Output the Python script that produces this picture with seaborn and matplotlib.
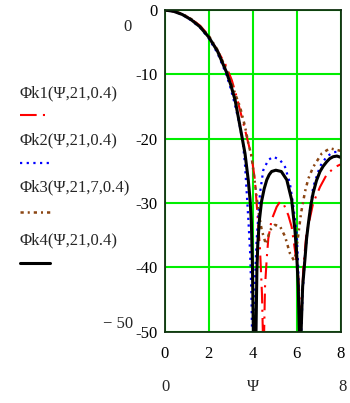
import matplotlib
matplotlib.use("Agg")
import pandas as pd
import seaborn as sns
from matplotlib import pyplot as plt
from matplotlib.lines import Line2D

# values (dB vs psi); nulls below -50 get clipped by the axes
psi_k1 = [0, 0.4, 0.8, 1.2, 1.6, 1.91, 2.29, 2.74, 3.05, 3.27, 3.5, 3.73, 3.95, 4.1, 4.2, 4.33,
          4.42, 4.46, 4.49, 4.52, 4.56, 4.64, 4.71, 4.86, 5.09, 5.24, 5.4, 5.62, 5.77, 5.92,
          6.07, 6.15, 6.19, 6.23, 6.3, 6.45, 6.53, 6.75, 7.06, 7.36, 7.74, 8.0]
db_k1 = [0, -0.2, -0.6, -1.4, -2.4, -3.6, -5.7, -8.3, -10.9, -13.5, -16.6, -19.7, -22.8, -26.4, -31, -37,
         -44, -50, -70, -50, -43, -38.5, -35.5, -32.6, -30.6, -29.8, -30.1, -31.9, -33.7, -37.3,
         -41.4, -46, -49, -46, -40, -34.5, -33.5, -30, -27.5, -25.6, -24.4, -24.0]

psi_k2 = [0, 0.4, 0.8, 1.2, 1.6, 2.0, 2.4, 2.8, 3.0, 3.2, 3.4, 3.55, 3.65, 3.73, 3.81, 3.88,
          3.94, 3.97, 4.01, 4.05, 4.1, 4.18, 4.33, 4.48, 4.71, 4.94, 5.24, 5.47, 5.69, 5.85,
          6.0, 6.07, 6.12, 6.16, 6.21, 6.27, 6.38, 6.53, 6.75, 7.06, 7.36, 7.66, 8.0]
db_k2 = [0, -0.2, -0.7, -1.6, -2.7, -4.4, -6.7, -10.0, -12.2, -14.8, -17.8, -20.5, -24, -28.5, -33, -37.5,
         -44, -50, -70, -50, -42, -35.7, -28.5, -24.9, -23.3, -22.8, -23.3, -24.4, -26.9, -30.6,
         -34.7, -40, -50, -70, -50, -44, -38, -33, -27.5, -24.3, -22.8, -22.1, -22.0]

psi_k3 = [0, 0.4, 0.8, 1.2, 1.6, 2.0, 2.4, 2.8, 3.0, 3.2, 3.42, 3.65, 3.8, 3.95, 4.1, 4.25,
          4.41, 4.6, 4.79, 5.01, 5.24, 5.47, 5.69, 5.87, 5.95, 6.07, 6.2, 6.38, 6.53, 6.75,
          7.14, 7.51, 7.89, 8.0]
db_k3 = [0, -0.2, -0.6, -1.4, -2.5, -4.0, -6.2, -9.2, -11.0, -13.0, -15.0, -18.1, -20.7, -22.8, -26.9, -31.1,
         -34.2, -36.4, -34.2, -33.4, -33.6, -35.2, -37.8, -38.9, -38.0, -35.0, -31.5, -28.2, -26.2, -24.4,
         -22.3, -21.5, -21.8, -21.9]

psi_k4 = [0, 0.4, 0.8, 1.2, 1.6, 2.0, 2.4, 2.8, 3.0, 3.2, 3.42, 3.65, 3.8, 3.88, 3.94, 3.99,
          4.03, 4.09, 4.15, 4.19, 4.23, 4.3, 4.4, 4.52, 4.64, 4.75, 4.86, 5.05, 5.3, 5.55,
          5.77, 5.92, 6.0, 6.07, 6.12, 6.16, 6.2, 6.27, 6.38, 6.45, 6.53, 6.64, 6.75, 6.9,
          7.06, 7.2, 7.36, 7.5, 7.66, 7.83, 8.0]
db_k4 = [0, -0.2, -0.7, -1.5, -2.6, -4.2, -6.4, -9.6, -11.6, -14.0, -18.0, -22.3, -26.5, -29.5, -33, -40,
         -50, -70, -50, -40.5, -36.5, -32.8, -29.8, -27.8, -26.4, -25.6, -25.1, -24.9, -25.1, -26.4,
         -29.5, -34.2, -38, -43, -50, -70, -50, -43, -38.5, -35.5, -33.2, -30.4, -28.4, -26.5,
         -25.1, -24.3, -23.6, -23.1, -22.8, -22.7, -22.9]

legend_labels = ["\u03a6k1(\u03a8,21,0.4)", "\u03a6k2(\u03a8,21,0.4)",
                 "\u03a6k3(\u03a8,21,7,0.4)", "\u03a6k4(\u03a8,21,0.4)"]
x_ticks = [0, 2, 4, 6, 8]
y_ticks = [0, -10, -20, -30, -40, -50]

sns.set_style("white")
plt.rcParams['font.family'] = ['Liberation Serif', 'DejaVu Serif']
plt.rcParams['axes.unicode_minus'] = False

W, H = 350, 403
fig = plt.figure(figsize=(W / 100, H / 100), dpi=100)
ax = fig.add_axes([164.7 / W, 1 - 331.7 / H, 176 / W, 321.7 / H])

styles = [
    dict(color="#ff0000", lw=1.5, ls=(0, (8, 3, 1, 3))),
    dict(color="#0000ff", lw=1.6, ls=(0, (1, 2))),
    dict(color="#8b4513", lw=1.8, ls=(0, (1.3, 1.6, 0.8, 1.6))),
    dict(color="#000000", lw=2.2, ls="-"),
]
curves = [(psi_k1, db_k1), (psi_k2, db_k2), (psi_k3, db_k3), (psi_k4, db_k4)]

for (xs, ys), st in zip(curves, styles):
    df = pd.DataFrame({"psi": xs, "db": ys})
    sns.lineplot(data=df, x="psi", y="db", ax=ax, sort=False, estimator=None,
                 color=st["color"], linewidth=st["lw"], linestyle=st["ls"],
                 dash_capstyle="butt")

ax.set_xlim(0, 8)
ax.set_ylim(-50, 0)
ax.set_xticks(x_ticks)
ax.set_yticks(y_ticks)
ax.set_xticklabels([str(t) for t in x_ticks])
ax.set_yticklabels([str(t) for t in y_ticks])
ax.set_xlabel("")
ax.set_ylabel("")
ax.grid(True, color="#00ee00", linewidth=1.5)
ax.tick_params(length=0, labelsize=12, colors="black")
ax.tick_params(axis="y", pad=5)
ax.tick_params(axis="x", pad=10)
for sp in ax.spines.values():
    sp.set_color("#103010")
    sp.set_linewidth(1.3)

# mathcad style limit labels
fig.text(127 / W, 1 - 27 / H, "0", ha="center", va="center", fontsize=12)
fig.text(118 / W, 1 - 324 / H, "\u2212 50", ha="center", va="center", fontsize=12)
fig.text(165 / W, 1 - 387 / H, "0", ha="center", va="center", fontsize=12)
fig.text(253 / W, 1 - 387 / H, "\u03a8", ha="center", va="center", fontsize=12)
fig.text(343 / W, 1 - 387 / H, "8", ha="center", va="center", fontsize=12)

# legend on the left
text_y = [93, 140, 187, 240]
line_y = [115, 163, 212, 263]
for lab, ty, ly, st in zip(legend_labels, text_y, line_y, styles):
    fig.text(20 / W, 1 - ty / H, lab, ha="left", va="center", fontsize=12)
    fig.add_artist(Line2D([20 / W, 50 / W], [1 - ly / H, 1 - ly / H], transform=fig.transFigure,
                          color=st["color"], linewidth=st["lw"], linestyle=st["ls"],
                          dash_capstyle="butt"))

fig.savefig("out.png", dpi=100)
